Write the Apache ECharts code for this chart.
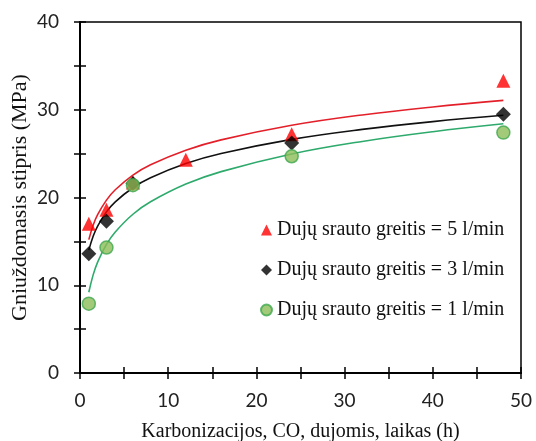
<!DOCTYPE html>
<html>
<head>
<meta charset="utf-8">
<script src="https://cdn.jsdelivr.net/npm/echarts@6/dist/echarts.min.js"></script>
<style>html,body{margin:0;padding:0;background:#fff}#c{width:536px;height:441px}</style>
</head>
<body>
<div id="c"></div>
<script>
// measured points
const names = ['Dujų srauto greitis = 5 l/min', 'Dujų srauto greitis = 3 l/min', 'Dujų srauto greitis = 1 l/min'];
const x5 = [1, 3, 6, 12, 24, 48];
const y5 = [17.0, 18.6, 21.7, 24.3, 27.2, 33.3];
const x3 = [1, 3, 6, 24, 48];
const y3 = [13.6, 17.3, 21.6, 26.2, 29.5];
const x1 = [1, 3, 6, 24, 48];
const y1 = [7.9, 14.3, 21.4, 24.7, 27.4];
// trend curves
const tx = [1, 1.5, 2, 3, 4, 6, 8, 12, 16, 24, 32, 40, 48];
const t5 = [15.2, 16.86, 18.04, 19.7, 20.88, 22.55, 23.73, 25.39, 26.57, 28.23, 29.41, 30.32, 31.07];
const t3 = [14.0, 15.61, 16.75, 18.36, 19.5, 21.11, 22.25, 23.87, 25.01, 26.62, 27.76, 28.65, 29.37];
const t1 = [9.2, 11.21, 12.64, 14.65, 16.07, 18.09, 19.51, 21.53, 22.95, 24.96, 26.39, 27.5, 28.4];
const xTicks = [0, 10, 20, 30, 40, 50];
const yTicks = [0, 10, 20, 30, 40];

const zip = (a, b) => a.map((v, i) => [v, b[i]]);
const chart = echarts.init(document.getElementById('c'));
const labelFont = {fontFamily: 'Lato', fontSize: 19, color: '#222'};
const serif = 'Liberation Serif';
const fmt = v => (v % 10 === 0 ? String(v) : '');
const tickStyle = {color: '#000', width: 1.5};
const axLine = {show: true, onZero: false, lineStyle: {color: '#000000', width: 2}};
chart.setOption({
  animation: false,
  grid: {left: 80, right: 15, top: 22, bottom: 68, outerBoundsMode: 'none',
         show: true, borderColor: '#000000', borderWidth: 1.5},
  xAxis: [
    {
      type: 'value', min: xTicks[0], max: xTicks[xTicks.length - 1], interval: 5, position: 'bottom',
      name: 'Karbonizacijos, CO, dujomis, laikas (h)', nameLocation: 'middle', nameGap: 49, nameMoveOverlap: false,
      nameTextStyle: {fontFamily: serif, fontSize: 20, color: '#111'},
      axisLine: axLine,
      axisTick: {show: true, length: 6, inside: false, lineStyle: tickStyle},
      axisLabel: Object.assign({margin: 18, formatter: fmt}, labelFont),
      splitLine: {show: false}
    },
    {
      type: 'value', min: xTicks[0], max: xTicks[xTicks.length - 1], interval: 5, position: 'bottom',
      axisLine: axLine,
      axisTick: {show: true, length: 6, inside: true, lineStyle: tickStyle},
      axisLabel: {show: false}, splitLine: {show: false}
    }
  ],
  yAxis: [
    {
      type: 'value', min: yTicks[0], max: yTicks[yTicks.length - 1], interval: 5, position: 'left',
      name: 'Gniuždomasis stipris (MPa)', nameLocation: 'middle', nameGap: 49, nameMoveOverlap: false,
      nameTextStyle: {fontFamily: serif, fontSize: 22, color: '#111'},
      axisLine: axLine,
      axisTick: {show: true, length: 6, inside: false, lineStyle: tickStyle},
      axisLabel: Object.assign({margin: 21, formatter: fmt}, labelFont),
      splitLine: {show: false}
    },
    {
      type: 'value', min: yTicks[0], max: yTicks[yTicks.length - 1], interval: 5, position: 'left',
      axisLine: axLine,
      axisTick: {show: true, length: 6, inside: true, lineStyle: tickStyle},
      axisLabel: {show: false}, splitLine: {show: false}
    }
  ],
  legend: {
    orient: 'vertical', left: 255, top: 215, itemGap: 20, itemWidth: 11, itemHeight: 11,
    data: names.map((n, i) => ({name: n, icon: ['triangle', 'diamond', 'circle'][i]})),
    textStyle: {fontFamily: serif, fontSize: 20, color: '#111', lineHeight: 20}
  },
  series: [
    {name: 't5', type: 'line', data: zip(tx, t5), smooth: 0.4, showSymbol: false, symbol: 'none', lineStyle: {color: '#e3202a', width: 1.6}, z: 2},
    {name: 't3', type: 'line', data: zip(tx, t3), smooth: 0.4, showSymbol: false, symbol: 'none', lineStyle: {color: '#111', width: 1.6}, z: 2},
    {name: 't1', type: 'line', data: zip(tx, t1), smooth: 0.4, showSymbol: false, symbol: 'none', lineStyle: {color: '#2eaa6c', width: 1.6}, z: 2},
    {name: names[0], type: 'scatter', data: zip(x5, y5), symbol: 'triangle', symbolSize: 14, itemStyle: {color: '#ff0000'}, z: 3},
    {name: names[1], type: 'scatter', data: zip(x3, y3), symbol: 'diamond', symbolSize: 15, itemStyle: {color: '#000'}, z: 4},
    {name: names[2], type: 'scatter', data: zip(x1, y1), symbol: 'circle', symbolSize: 13, itemStyle: {color: '#8bbd58', borderColor: '#3fa84f', borderWidth: 1.5}, z: 5}
  ]
});
</script>
</body>
</html>
